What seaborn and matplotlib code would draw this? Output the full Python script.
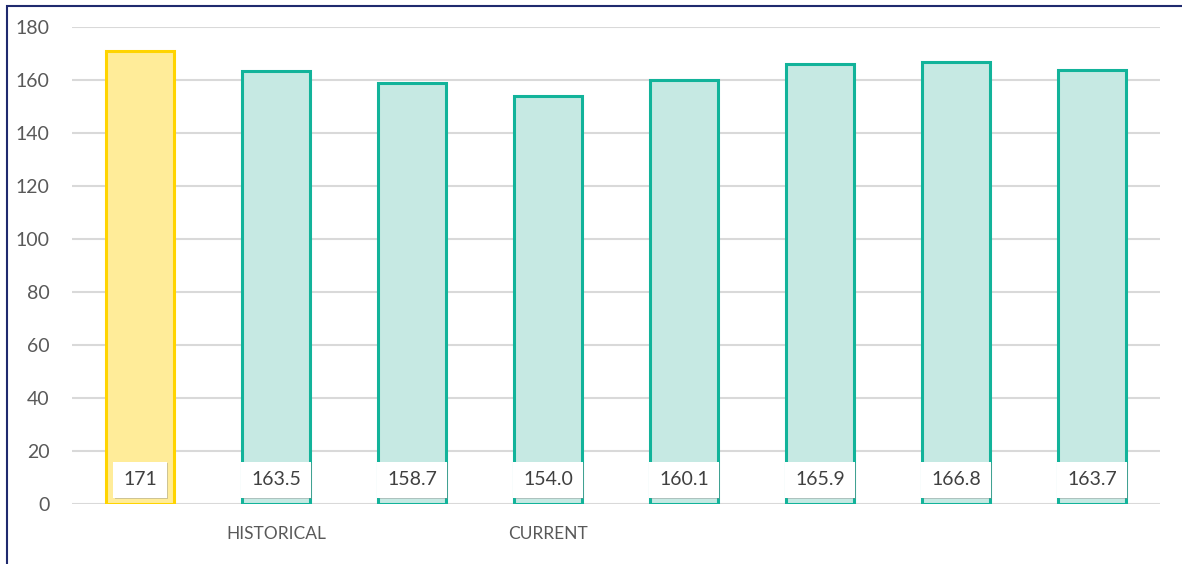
import numpy as np
import pandas as pd
import seaborn as sns
import matplotlib.pyplot as plt
import matplotlib.patheffects as pe
from matplotlib.patches import Rectangle

# values
cats = ['c1', 'c2', 'c3', 'c4', 'c5', 'c6', 'c7', 'c8']
values = [171, 163.5, 158.7, 154.0, 160.1, 165.9, 166.8, 163.7]
labels = ['171', '163.5', '158.7', '154.0', '160.1', '165.9', '166.8', '163.7']
tick_labels = ['', 'HISTORICAL', '', 'CURRENT', '', '', '', '']

fills = ['#FFEC99'] + ['#C6E9E3'] * 7
edges = ['#FFD400'] + ['#12B39A'] * 7

sns.set_style('white')
plt.rcParams['font.family'] = ['Lato', 'DejaVu Sans']

df = pd.DataFrame({'cat': cats, 'value': values})

fig = plt.figure(figsize=(11.82, 5.64), dpi=100)
ax = fig.add_axes([72 / 1182, 60 / 564, 1088 / 1182, 477 / 564])

sns.barplot(data=df, x='cat', y='value', hue='cat', palette=fills, saturation=1,
            legend=False, width=0.5, ax=ax, zorder=3)

shadow = [pe.SimplePatchShadow(offset=(0, -2), shadow_rgbFace='#777777', alpha=0.35), pe.Normal()]
for bar, ec in zip(ax.patches, edges):
    bar.set_edgecolor(ec)
    bar.set_linewidth(2.2)
    bar.set_path_effects(shadow)

# value boxes near the bottom of each bar
for i, lab in enumerate(labels):
    t = ax.text(i, 9.1, lab, ha='center', va='center', fontsize=14, color='#404040', zorder=5,
                bbox=dict(boxstyle='square,pad=0.5', fc='white', ec='none'))
    t.get_bbox_patch().set_path_effects([pe.SimplePatchShadow(offset=(1, -1), shadow_rgbFace='#888888', alpha=0.4), pe.Normal()])

ax.set_ylim(0, 180)
ax.set_xlim(-0.5, len(cats) - 0.5)
ax.set_yticks(np.arange(0, 181, 20))
ax.yaxis.grid(True, color='#D9D9D9', linewidth=1.5, zorder=0)
ax.set_axisbelow(True)
ax.set_xticks(range(len(cats)))
ax.set_xticklabels(tick_labels)
ax.tick_params(axis='y', length=0, pad=16, labelsize=14, labelcolor='#595959')
ax.tick_params(axis='x', length=0, pad=16, labelsize=12.5, labelcolor='#595959')
ax.set_xlabel('')
ax.set_ylabel('')
for s in ax.spines.values():
    s.set_visible(False)

# chart border
fig.patches.append(Rectangle((7 / 1182, -0.1), 1.2, 1.1 - 6 / 564, transform=fig.transFigure,
                             fill=False, edgecolor='#1F2A6E', linewidth=1.5))

fig.savefig('out.png', dpi=100)
